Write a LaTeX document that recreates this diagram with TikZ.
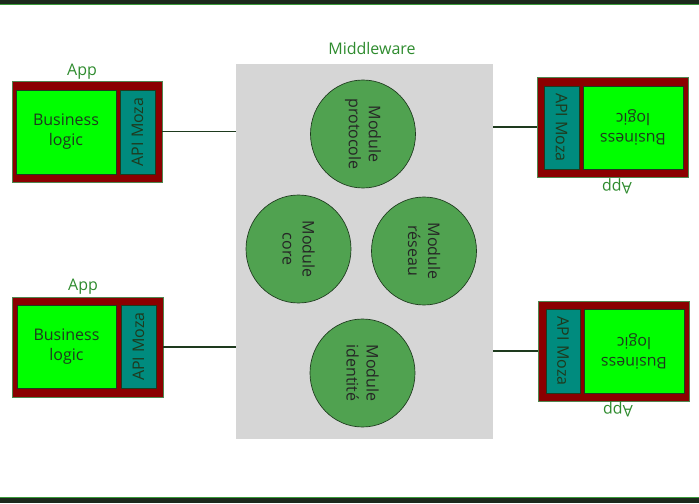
\documentclass[tikz,border=0pt]{standalone}
\usepackage{fontspec}
\setmainfont{Open Sans}
\usetikzlibrary{shapes.geometric}
\definecolor{bandc}{HTML}{1C291C}
\definecolor{bandline}{HTML}{3A9A3A}
\definecolor{appred}{HTML}{8B0000}
\definecolor{bizgreen}{HTML}{00FF00}
\definecolor{apiteal}{HTML}{008B7E}
\definecolor{mwgrey}{HTML}{D6D6D6}
\definecolor{modgreen}{HTML}{50A250}
\definecolor{labgreen}{HTML}{2E8B2E}
\definecolor{txtdark}{HTML}{1E3A1E}
\definecolor{linec}{HTML}{1E3A1E}
\tikzset{
  x=0.75pt, y=-0.75pt,
  appbox/.style={draw=labgreen!60!gray, line width=0.6pt, fill=appred, inner sep=0pt, outer sep=0pt},
  bizbox/.style={draw=txtdark, line width=0.3pt, fill=bizgreen, inner sep=0pt, outer sep=0pt, align=center, text=txtdark, font=\fontsize{12pt}{15pt}\selectfont},
  apibox/.style={draw=txtdark, line width=0.3pt, fill=apiteal, inner sep=0pt, outer sep=0pt, text=txtdark, font=\fontsize{12pt}{15pt}\selectfont},
  applabel/.style={text=labgreen, font=\fontsize{12pt}{15pt}\selectfont, inner sep=0pt},
  modnode/.style={ellipse, draw=txtdark, line width=0.5pt, fill=modgreen, minimum width=105*0.75pt, minimum height=108*0.75pt, inner sep=0pt},
  modtext/.style={align=center, rotate=-90, text=black!85, font=\fontsize{12pt}{15pt}\selectfont, inner sep=0pt},
  link/.style={draw=linec, line width=1.1pt},
}
\begin{document}
\begin{tikzpicture}
\useasboundingbox (0,0) rectangle (699,503);
% bands
\fill[bandc] (0,0) rectangle (699,4);
\fill[bandline] (0,4) rectangle (699,5);
\fill[bandc] (0,498) rectangle (699,503);
\fill[bandline] (0,497) rectangle (699,498);

% middleware
\node[fill=mwgrey, draw=none, minimum width=257*0.75pt, minimum height=375*0.75pt, inner sep=0pt, outer sep=0pt] (mw) at (364.5,251.5) {};
\node[applabel] (mwlab) at (372,49) {Middleware};

\node[modnode] (mprot) at (363,134) {};
\node[modtext] (tprot) at (mprot.center) {Module\\protocole};
\node[modnode] (mcore) at (298.5,249) {};
\node[modtext] (tcore) at (mcore.center) {Module\\core};
\node[modnode] (mres) at (424,251) {};
\node[modtext] (tres) at (mres.center) {Module\\réseau};
\node[modnode] (mid) at (362.5,373) {};
\node[modtext] (tid) at (mid.center) {Module\\identité};

% top-left app
\node[appbox, minimum width=150*0.75pt, minimum height=101*0.75pt] (app1) at (87,131.5) {};
\node[bizbox, minimum width=100*0.75pt, minimum height=84*0.75pt] (biz1) at (66,132) {Business\\logic};
\node[apibox, minimum width=35*0.75pt, minimum height=84*0.75pt] (api1) at (137.5,132) {};
\node[rotate=90, text=txtdark, font=\fontsize{12pt}{15pt}\selectfont, inner sep=0pt] (apit1) at (api1.center) {API Moza};
\node[applabel] (lab1) at (82,72) {App};

% bottom-left app
\node[appbox, minimum width=151*0.75pt, minimum height=100*0.75pt] (app2) at (87.5,347) {};
\node[bizbox, minimum width=99*0.75pt, minimum height=83*0.75pt] (biz2) at (66.5,346.5) {Business\\logic};
\node[apibox, minimum width=35*0.75pt, minimum height=83*0.75pt] (api2) at (138.5,346.5) {};
\node[rotate=90, text=txtdark, font=\fontsize{12pt}{15pt}\selectfont, inner sep=0pt] (apit2) at (api2.center) {API Moza};
\node[applabel] (lab2) at (83,287) {App};

% top-right app
\node[appbox, minimum width=151*0.75pt, minimum height=100*0.75pt] (app3) at (612.5,127) {};
\node[apibox, minimum width=35*0.75pt, minimum height=83*0.75pt] (api3) at (561.5,127.5) {};
\node[rotate=-90, text=txtdark, font=\fontsize{12pt}{15pt}\selectfont, inner sep=0pt] (apit3) at (api3.center) {API Moza};
\node[bizbox, minimum width=100*0.75pt, minimum height=83*0.75pt] (biz3) at (633,127.5) {};
\node[rotate=180, align=center, text=txtdark, font=\fontsize{12pt}{15pt}\selectfont, inner sep=0pt] (bizt3) at (biz3.center) {Business\\logic};
\node[applabel, rotate=180] (lab3) at (617,186) {App};

% bottom-right app
\node[appbox, minimum width=151*0.75pt, minimum height=100*0.75pt] (app4) at (613.5,351) {};
\node[apibox, minimum width=34*0.75pt, minimum height=84*0.75pt] (api4) at (563,351) {};
\node[rotate=-90, text=txtdark, font=\fontsize{12pt}{15pt}\selectfont, inner sep=0pt] (apit4) at (api4.center) {API Moza};
\node[bizbox, minimum width=100*0.75pt, minimum height=84*0.75pt] (biz4) at (634,351) {};
\node[rotate=180, align=center, text=txtdark, font=\fontsize{12pt}{15pt}\selectfont, inner sep=0pt] (bizt4) at (biz4.center) {Business\\logic};
\node[applabel, rotate=180] (lab4) at (618,409) {App};

% links
\draw[link] (app1.east) -- (app1.east -| mw.west);
\draw[link] (app2.east) -- (app2.east -| mw.west);
\draw[link] (app3.west) -- (app3.west -| mw.east);
\draw[link] (app4.west) -- (app4.west -| mw.east);
\end{tikzpicture}
\end{document}
